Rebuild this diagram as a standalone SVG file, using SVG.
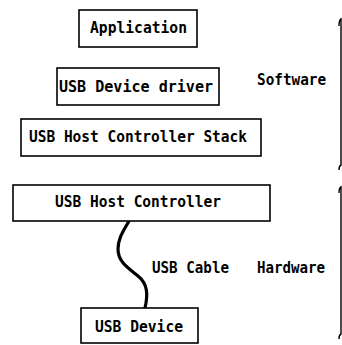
<svg xmlns="http://www.w3.org/2000/svg" width="342" height="345" viewBox="0 0 342 345">
  <style>
    .box { fill: #fff; stroke: #000; stroke-width: 1.6; }
    .lbl { font-family: "DejaVu Sans Mono", "Liberation Mono", monospace; font-weight: bold; font-size: 16px; fill: #000; }
    .cable { fill: none; stroke: #000; stroke-width: 3.2; stroke-linecap: round; }
    .brace { fill: none; stroke: #000; stroke-width: 1.4; }
  </style>
  <rect width="342" height="345" fill="#fff"/>

  <!-- connectors: cable from host controller to device -->
  <g id="connectors">
    <path class="cable" d="M129,221 C124,230 118,238 118,249 C118,262 128,268 138,276 C148,284 148,295 145,308"/>
  </g>

  <g id="application">
    <rect class="box" x="79" y="10" width="118" height="37"/>
    <text class="lbl" x="90" y="33" textLength="97" lengthAdjust="spacingAndGlyphs">Application</text>
  </g>

  <g id="device-driver">
    <rect class="box" x="57" y="68" width="162" height="37"/>
    <text class="lbl" x="59" y="92" textLength="154" lengthAdjust="spacingAndGlyphs">USB Device driver</text>
  </g>

  <g id="host-controller-stack">
    <rect class="box" x="21" y="119" width="240" height="37"/>
    <text class="lbl" x="29" y="142" textLength="218" lengthAdjust="spacingAndGlyphs">USB Host Controller Stack</text>
  </g>

  <g id="host-controller">
    <rect class="box" x="13" y="185" width="257" height="36"/>
    <text class="lbl" x="55" y="207" textLength="166" lengthAdjust="spacingAndGlyphs">USB Host Controller</text>
  </g>

  <g id="usb-device">
    <rect class="box" x="81" y="308" width="117" height="35"/>
    <text class="lbl" x="95" y="332" textLength="88" lengthAdjust="spacingAndGlyphs">USB Device</text>
  </g>

  <g id="cable-label">
    <text class="lbl" x="152" y="273" textLength="77" lengthAdjust="spacingAndGlyphs">USB Cable</text>
  </g>

  <!-- layer brackets on the right edge -->
  <g id="software-layer">
    <path class="brace" d="M339,26 Q339,20 341,19 L341,165 Q339,166 339,170"/>
    <text class="lbl" x="257" y="85" textLength="69" lengthAdjust="spacingAndGlyphs">Software</text>
  </g>

  <g id="hardware-layer">
    <path class="brace" d="M339,193 Q339,188 341,187 L341,334 Q339,335 339,339"/>
    <text class="lbl" x="257" y="273" textLength="68" lengthAdjust="spacingAndGlyphs">Hardware</text>
  </g>
</svg>
